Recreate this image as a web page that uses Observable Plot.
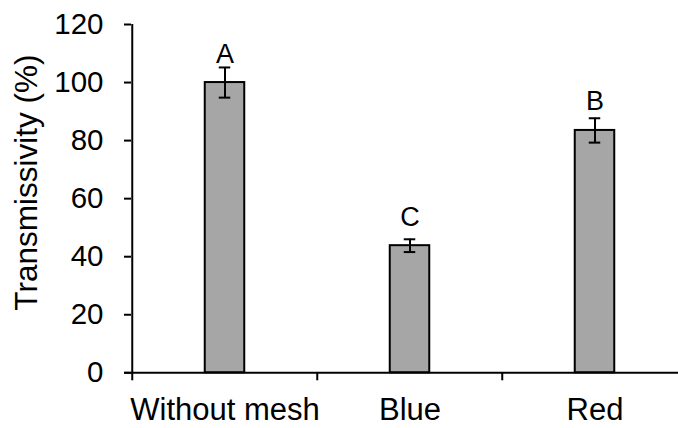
<!DOCTYPE html>
<html><head><meta charset="utf-8">
<script src="https://cdn.jsdelivr.net/npm/d3@7"></script>
<script src="https://cdn.jsdelivr.net/npm/@observablehq/plot@0.6"></script>
<style>
html,body{margin:0;padding:0;background:#fff;overflow:hidden}
svg{overflow:visible}
</style></head><body><div id="chart"></div>
<script>
const categories = ["Without mesh", "Blue", "Red"];
const means = [100, 43.8, 83.5];
const errors = [5.2, 2.2, 4.2];
const letters = ["A", "C", "B"];
const yTicks = [0, 20, 40, 60, 80, 100, 120];
const yLabel = "Transmissivity (%)";

const data = categories.map((c, i) => ({cat: c, mean: means[i], err: errors[i], letter: letters[i]}));

const W = 678, H = 428, mL = 131, mR = -9.5, mT = 24, mB = 55.7;
const bw = (W - mR - mL) / categories.length;
const barW = 40, capW = 12;
const font = "'Liberation Sans', Arial, sans-serif";

const chart = Plot.plot({
  width: W, height: H,
  marginLeft: mL, marginRight: mR, marginTop: mT, marginBottom: mB,
  style: {fontFamily: font, color: "#000", background: "#fff", overflow: "visible"},
  x: {domain: categories, padding: 0},
  y: {domain: [0, 120]},
  marks: [
    Plot.barY(data, {x: "cat", y: "mean", fill: "#a6a6a6", stroke: "#000", strokeWidth: 2,
      insetLeft: (bw - barW) / 2, insetRight: (bw - barW) / 2}),
    Plot.ruleX(data, {x: "cat", y1: d => d.mean - d.err, y2: d => d.mean + d.err, stroke: "#000", strokeWidth: 2}),
    Plot.tickY(data, {x: "cat", y: d => d.mean + d.err, stroke: "#000", strokeWidth: 2,
      insetLeft: (bw - capW) / 2, insetRight: (bw - capW) / 2}),
    Plot.tickY(data, {x: "cat", y: d => d.mean - d.err, stroke: "#000", strokeWidth: 2,
      insetLeft: (bw - capW) / 2, insetRight: (bw - capW) / 2}),
    Plot.text(data, {x: "cat", y: "mean", text: "letter", dy: -20, lineAnchor: "bottom", fontSize: 27, fill: "#000"}),
    Plot.ruleY([0], {stroke: "#000", strokeWidth: 2, insetLeft: -7}),
    Plot.ruleX([categories[0]], {x: d => d, dx: -bw / 2, y1: 0, y2: 120, stroke: "#000", strokeWidth: 2}),
    Plot.ruleX(categories, {x: d => d, dx: -bw / 2, y1: 0, y2: 0, insetBottom: -8, stroke: "#000", strokeWidth: 2}),
    Plot.axisY({ticks: yTicks, tickSize: 7, tickPadding: 21, strokeWidth: 2, fontSize: 29.5, label: null}),
    Plot.axisX({tickSize: 0, tickPadding: 25, fontSize: 31, label: null}),
    Plot.text([yLabel], {text: d => d, frameAnchor: "left", textAnchor: "middle", lineAnchor: "middle",
      rotate: -90, dx: -104.6, dy: -16, fontSize: 31.5, fill: "#000"})
  ]
});
document.getElementById("chart").appendChild(chart);
</script>
</body></html>
